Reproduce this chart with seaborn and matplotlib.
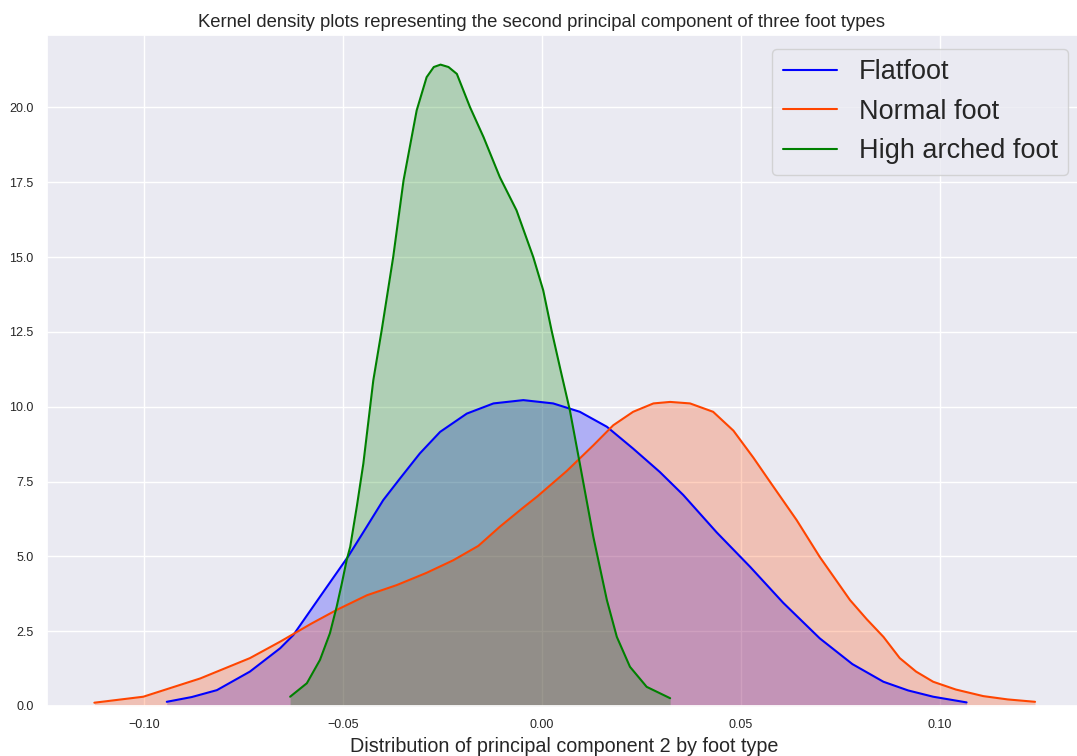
import matplotlib
matplotlib.use("Agg")
import matplotlib.pyplot as plt
import seaborn as sns
import pandas as pd

# Density curves (x = PC2 value, y = density)
flat_x = [-0.0943, -0.0880, -0.0817, -0.0734, -0.0658, -0.0625, -0.0558, -0.0487,
          -0.0440, -0.0399, -0.0357, -0.0307, -0.0256, -0.0189, -0.0122, -0.0047,
          0.0028, 0.0095, 0.0163, 0.0229, 0.0296, 0.0355, 0.0439, 0.0523,
          0.0606, 0.0698, 0.0780, 0.0858, 0.0920, 0.0983, 0.1067]
flat_y = [0.14, 0.30, 0.53, 1.15, 1.93, 2.37, 3.65, 5.00,
          6.00, 6.88, 7.60, 8.44, 9.16, 9.77, 10.11, 10.22,
          10.11, 9.83, 9.33, 8.60, 7.82, 7.05, 5.80, 4.65,
          3.45, 2.26, 1.40, 0.81, 0.52, 0.31, 0.12]

normal_x = [-0.1125, -0.1002, -0.0859, -0.0734, -0.0658, -0.0580, -0.0516, -0.0440,
            -0.0365, -0.0290, -0.0223, -0.0160, -0.0106, -0.0050, -0.0012, 0.0062,
            0.0129, 0.0179, 0.0229, 0.0280, 0.0322, 0.0372, 0.0430, 0.0481,
            0.0531, 0.0573, 0.0640, 0.0698, 0.0774, 0.0816, 0.0858, 0.0899,
            0.0940, 0.0983, 0.1040, 0.1109, 0.1170, 0.1239]
normal_y = [0.11, 0.31, 0.92, 1.60, 2.15, 2.75, 3.21, 3.70,
            4.04, 4.45, 4.87, 5.35, 5.99, 6.60, 7.00, 7.85,
            8.71, 9.38, 9.83, 10.11, 10.16, 10.11, 9.83, 9.20,
            8.30, 7.49, 6.21, 4.98, 3.54, 2.90, 2.31, 1.60,
            1.15, 0.81, 0.55, 0.33, 0.22, 0.14]

high_x = [-0.0633, -0.0591, -0.0558, -0.0533, -0.0516, -0.0503, -0.0491, -0.0482,
          -0.0465, -0.0449, -0.0424, -0.0403, -0.0374, -0.0348, -0.0315, -0.0290,
          -0.0272, -0.0255, -0.0235, -0.0214, -0.0181, -0.0147, -0.0106, -0.0064,
          -0.0022, 0.0003, 0.0024, 0.0047, 0.0070, 0.0095, 0.0129, 0.0163,
          0.0188, 0.0221, 0.0263, 0.0322]
high_y = [0.31, 0.76, 1.54, 2.43, 3.32, 4.10, 4.87, 5.32,
          6.70, 8.10, 10.88, 12.55, 15.00, 17.56, 19.90, 21.01,
          21.35, 21.43, 21.35, 21.12, 20.01, 19.01, 17.67, 16.56,
          15.00, 13.89, 12.55, 11.20, 9.88, 8.10, 5.65, 3.54,
          2.31, 1.31, 0.64, 0.26]

series_names = ["Flatfoot", "Normal foot", "High arched foot"]
series_colors = ["blue", "orangered", "green"]

title_text = "Kernel density plots representing the second principal component of three foot types"
xlabel_text = "Distribution of principal component 2 by foot type"

sns.set_theme(style="darkgrid")
plt.rcParams["font.family"] = ["Liberation Sans", "DejaVu Sans"]

W, H = 1077, 756
fig = plt.figure(figsize=(W / 100, H / 100), dpi=100)
ax = fig.add_axes([47 / W, 1 - 706 / H, (1082 - 47) / W, (706 - 35) / H])

curves = [(flat_x, flat_y), (normal_x, normal_y), (high_x, high_y)]
for (xs, ys), name, col in zip(curves, series_names, series_colors):
    df = pd.DataFrame({"x": xs, "y": ys})
    sns.lineplot(data=df, x="x", y="y", color=col, label=name, ax=ax,
                 linewidth=1.5, sort=True)
    ax.fill_between(df["x"], df["y"], 0, color=col, alpha=0.25, linewidth=0)

ax.set_xlim(-0.1244, 0.1357)
ax.set_ylim(0, 22.42)
ax.set_xticks([-0.10, -0.05, 0.00, 0.05, 0.10])
ax.set_yticks([0.0, 2.5, 5.0, 7.5, 10.0, 12.5, 15.0, 17.5, 20.0])
ax.set_xticklabels(["\u22120.10", "\u22120.05", "0.00", "0.05", "0.10"])
ax.set_yticklabels(["0.0", "2.5", "5.0", "7.5", "10.0", "12.5", "15.0", "17.5", "20.0"])
ax.tick_params(labelsize=9, colors=".15")
ax.set_ylabel("")
ax.set_xlabel(xlabel_text, fontsize=14.2, color=".15")

ax.legend(loc="upper right", fontsize=19.5)

fig.text(541 / W, 1 - 27 / H, title_text, ha="center", va="baseline",
         fontsize=13.3, color=".15")

fig.savefig("out.png", dpi=100)
